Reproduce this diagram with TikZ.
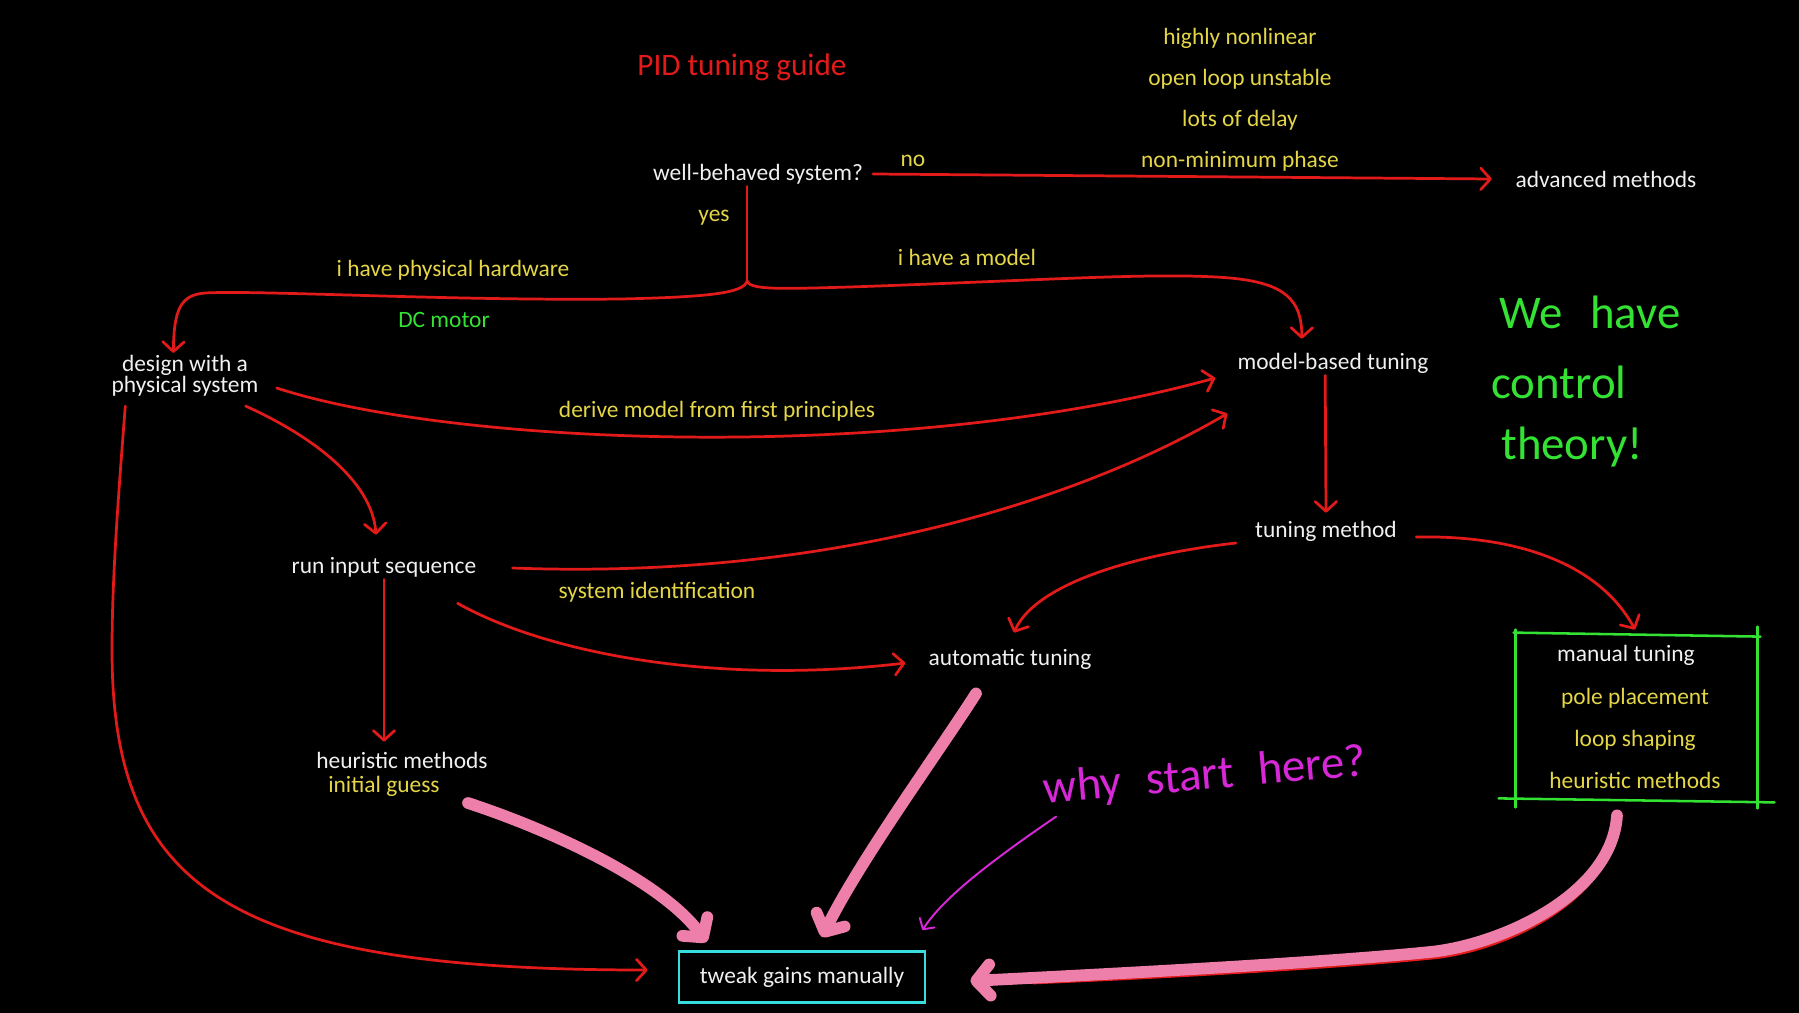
\documentclass[tikz,border=0pt]{standalone}
\usepackage{fontspec}
\setmainfont{Carlito}
\usetikzlibrary{arrows.meta}

\definecolor{inkred}{RGB}{226,26,26}
\definecolor{inkyellow}{RGB}{228,214,70}
\definecolor{inkgreen}{RGB}{52,226,52}
\definecolor{inkpink}{RGB}{238,126,170}
\definecolor{inkmagenta}{RGB}{214,40,214}
\definecolor{inkcyan}{RGB}{56,222,222}
\definecolor{inkwhite}{RGB}{240,240,240}

\begin{document}
\begin{tikzpicture}[x=1.8cm,y=1.8cm,font=\fontsize{12}{13}\selectfont,
    >={Straight Barb[length=5pt,width=11pt,round]},
    txt/.style={text=inkwhite,inner sep=1pt},
    lbl/.style={text=inkyellow,inner sep=1pt},
    redline/.style={draw=inkred,line width=1.4pt,line cap=round},
    pinkline/.style={draw=inkpink,line width=6pt,line cap=round,
        -{Straight Barb[length=7pt,width=16pt,round]}},
    greenline/.style={draw=inkgreen,line width=1.3pt,line cap=round}]

    % Fondo negro.
    \fill[black] (0,0) rectangle (17.99,-10.13);

    \node[text=inkred,font=\fontsize{16}{18}\selectfont] (title) at (7.42,-0.67) {PID tuning guide};

    % Nodes.
    \node[txt] (wb) at (7.58,-1.74) {well-behaved system?};
    \node[txt] (adv) at (16.06,-1.79) {advanced methods};
    \node[txt,align=center,font=\fontsize{12}{11}\selectfont] (design) at (1.85,-3.76)
        {design with a\\physical system};
    \node[txt] (mbt) at (13.33,-3.63) {model-based tuning};
    \node[txt] (run) at (3.84,-5.67) {run input sequence};
    \node[txt] (method) at (13.26,-5.31) {tuning method};
    \node[txt] (auto) at (10.10,-6.59) {automatic tuning};
    \node[txt] (heur) at (4.02,-7.60) {heuristic methods};
    \node[lbl] (guess) at (3.84,-7.86) {initial guess};
    \node[txt,draw=inkcyan,line width=1.4pt,minimum width=4.43cm,minimum height=0.92cm]
        (tweak) at (8.02,-9.77) {tweak gains manually};

    % Why the advanced methods.
    \foreach \t [count=\i] in {highly nonlinear,open loop unstable,lots of delay,non-minimum phase}{
        \node[lbl] (cause\i) at (12.40,-0.38-0.41*\i+0.41) {\t};
    }

    % Labels on the arrows.
    \node[lbl] (no) at (9.13,-1.61) {no};
    \node[lbl] (yes) at (7.14,-2.18) {yes};
    \node[lbl] (hwlbl) at (4.53,-2.70) {i have physical hardware};
    \node[text=inkgreen] (motor) at (4.44,-3.20) {DC motor};
    \node[lbl] (modellbl) at (9.67,-2.57) {i have a model};
    \node[lbl] (derive) at (7.17,-4.11) {derive model from first principles};
    \node[lbl] (sysid) at (6.57,-5.92) {system identification};

    % Manual tuning box.
    \node[minimum width=4.356cm,minimum height=3.006cm] (mbox) at (16.36,-7.165) {};
    \node[txt] (manual) at (16.26,-6.55) {manual tuning};
    \node[lbl] (pole) at (16.35,-6.98) {pole placement};
    \node[lbl] (shaping) at (16.35,-7.40) {loop shaping};
    \node[lbl] (heurbox) at (16.35,-7.80) {heuristic methods};
    \draw[greenline] ([shift={(-0.01,0)}]mbox.north west) -- ([shift={(0.03,-0.04)}]mbox.north east);
    \draw[greenline] ([shift={(0.01,0.03)}]mbox.north west) -- ([shift={(0.01,-0.07)}]mbox.south west);
    \draw[greenline] ([shift={(0,0.06)}]mbox.north east) -- ([shift={(0,-0.08)}]mbox.south east);
    \draw[greenline] ([shift={(-0.16,0.02)}]mbox.south west) -- ([shift={(0.17,-0.02)}]mbox.south east);

    % Notes.
    \node[text=inkgreen,font=\fontsize{24}{26}\selectfont] (note1) at (15.90,-3.12) {We\hspace{0.35em} have};
    \node[text=inkgreen,font=\fontsize{24}{26}\selectfont] (note2) at (15.59,-3.82) {control};
    \node[text=inkgreen,font=\fontsize{24}{26}\selectfont] (note3) at (15.72,-4.47) {theory!};
    \node[text=inkmagenta,font=\fontsize{24}{26}\selectfont,rotate=5] (why) at (12.05,-7.77)
        {why\hspace{0.3em} start\hspace{0.3em} here?};

    % Top decision.
    \coordinate (split) at (7.47,-2.81);
    \draw[redline,->] ([xshift=4pt]wb.east) -- ([xshift=-11pt]adv.west);
    \draw[redline] (split |- wb.south) -- (split);
    \draw[redline,->] (split) .. controls (7.44,-2.93) and (7.1,-2.97) .. (6.2,-2.99)
        .. controls (4.5,-3.01) and (2.6,-2.90) .. (2.05,-2.93)
        .. controls (1.80,-2.95) and (1.74,-3.10) .. ([xshift=-6pt]design.north);
    \draw[redline,->] (split) .. controls (7.50,-2.90) and (7.8,-2.89) .. (8.5,-2.87)
        .. controls (10.5,-2.80) and (11.6,-2.72) .. (12.3,-2.78)
        .. controls (12.85,-2.83) and (13.02,-3.0) .. ([xshift=-16pt,yshift=6pt]mbt.north);

    % From the hardware.
    \draw[redline,->] ([shift={(0.16,-0.12)}]design.east) .. controls (4.5,-4.45) and (9.0,-4.65)
        .. ([shift={(-0.2,-0.15)}]mbt.west);
    \draw[redline,->] ([shift={(-0.15,-0.07)}]design.south east) .. controls (3.1,-4.35) and (3.72,-4.8)
        .. ([shift={(-0.08,0.2)}]run.north);
    \draw[redline,->] ([shift={(0.16,-0.07)}]design.south west) .. controls (1.18,-5.0) and (1.12,-5.8) .. (1.12,-6.5)
        .. controls (1.12,-8.9) and (2.3,-9.7) .. ([shift={(-0.3,0.07)}]tweak.west);
    \draw[redline,->] ([shift={(0.34,-0.01)}]run.east) .. controls (8.3,-5.8) and (10.8,-5.0)
        .. ([shift={(-0.08,-0.38)}]mbt.south west);
    \draw[redline,->] ([shift={(-0.21,-0.24)}]run.south east) .. controls (5.5,-6.55) and (7.2,-6.85)
        .. ([shift={(-0.21,-0.04)}]auto.west);
    \draw[redline,->] (run.south) -- ([yshift=4pt]run.south |- heur.north);

    % From the model.
    \draw[redline,->] ([xshift=-4pt]mbt.south) -- ([yshift=3pt]method.north);
    \draw[redline,->] ([shift={(-0.17,-0.12)}]method.west) .. controls (11.3,-5.55) and (10.35,-5.85)
        .. ([shift={(0.04,0.14)}]auto.north);
    \draw[redline,->] ([shift={(0.17,-0.06)}]method.east) .. controls (15.2,-5.35) and (16.0,-5.65)
        .. ([shift={(-0.01,0.03)}]mbox.north);

    % Everything ends in tweaking.
    \draw[redline,shift={(0.03,-0.06)}] ([shift={(-0.18,-0.15)}]mbox.south) .. controls (16.12,-8.95) and (15.0,-9.45) .. (14.3,-9.52)
        .. controls (13.3,-9.62) and (11.5,-9.72) .. (10.3,-9.77);
    \draw[pinkline] ([shift={(-0.19,-0.15)}]mbox.south) .. controls (16.12,-8.95) and (15.0,-9.45) .. (14.3,-9.52)
        .. controls (13.3,-9.62) and (11.5,-9.72) .. ([shift={(0.44,-0.04)}]tweak.east);
    \draw[pinkline] ([shift={(0.26,-0.17)}]guess.east) .. controls (5.5,-8.3) and (6.6,-8.8)
        .. ([shift={(0.29,0.08)}]tweak.north west);
    \draw[pinkline] ([shift={(-0.34,-0.22)}]auto.south) .. controls (9.4,-7.5) and (8.6,-8.6)
        .. ([shift={(0.2,0.13)}]tweak.north);
    \draw[draw=inkmagenta,line width=1pt,line cap=round,-{Straight Barb[length=4pt,width=9pt,round]}]
        ([shift={(0.17,0.02)}]why.south west) .. controls (10.0,-8.55) and (9.45,-8.95)
        .. ([shift={(-0.04,0.2)}]tweak.north east);
\end{tikzpicture}
\end{document}
